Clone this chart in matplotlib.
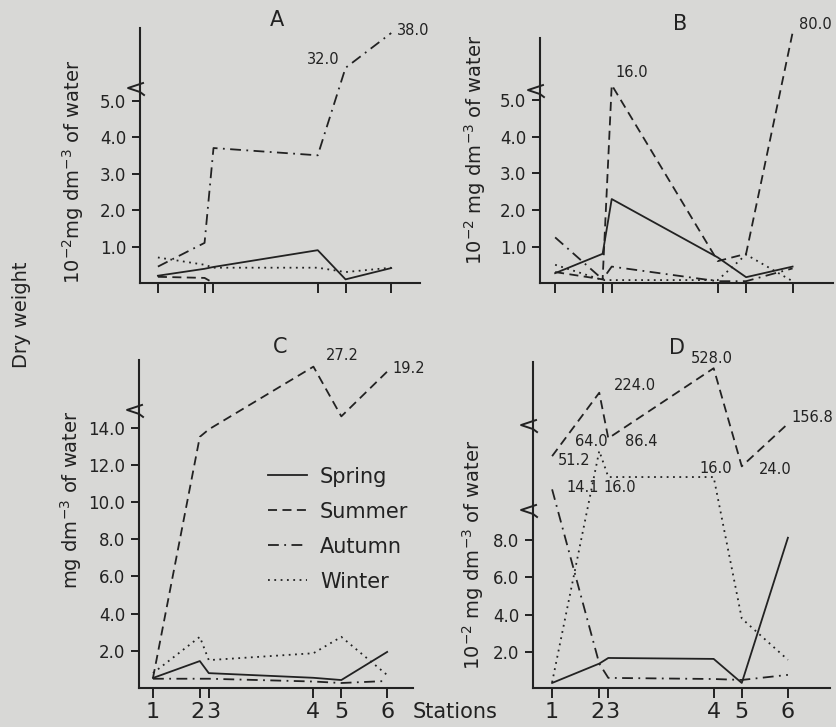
import numpy as np
import matplotlib
matplotlib.use("Agg")
import matplotlib.pyplot as plt

# stations along the river (relative distance) and their labels
stations = ["1", "2", "3", "4", "5", "6"]
station_pos = [0, 4.7, 5.6, 16.1, 18.9, 23.5]
seasons = ["Spring", "Summer", "Autumn", "Winter"]

# A  (10^-2 mg dm-3 of water)
a_spring = [0.2, 0.39, 0.44, 0.9, 0.1, 0.41]
a_summer = [0.17, 0.14, 0.0, 0.0, 0.0, 0.0]
a_autumn = [0.45, 1.1, 3.7, 3.5, 32.0, 38.0]
a_winter = [0.7, 0.5, 0.42, 0.42, 0.3, 0.42]

# B  (10^-2 mg dm-3 of water)
b_spring = [0.27, 0.8, 2.3, 0.7, 0.16, 0.45]
b_summer = [0.3, 0.1, 16.0, 0.6, 0.8, 80.0]
b_autumn = [1.25, 0.1, 0.45, 0.05, 0.05, 0.4]
b_winter = [0.5, 0.08, 0.08, 0.08, 0.78, 0.05]

# C  (mg dm-3 of water)
c_spring = [0.54, 1.45, 0.8, 0.55, 0.43, 1.94]
c_summer = [0.54, 13.5, 13.9, 27.2, 14.6, 19.2]
c_autumn = [0.5, 0.5, 0.5, 0.35, 0.27, 0.38]
c_winter = [0.8, 2.75, 1.5, 1.87, 2.75, 0.7]

# D  (10^-2 mg dm-3 of water)
d_spring = [0.37, 1.4, 1.7, 1.65, 0.37, 8.1]
d_summer = [51.2, 224.0, 86.4, 528.0, 24.0, 156.8]
d_autumn = [14.1, 1.4, 0.64, 0.58, 0.53, 0.8]
d_winter = [0.4, 64.0, 16.0, 16.0, 3.8, 1.6]

ink = "#222222"
styles = {
    "Spring": "-",
    "Summer": (0, (5, 3)),
    "Autumn": (0, (6, 3, 1, 3)),
    "Winter": (0, (1, 2.5)),
}


def broken(yk, fk):
    # piecewise linear axis: true scale below the break, squeezed above it
    yk = np.asarray(yk, float)
    fk = np.asarray(fk, float)
    s_hi = (fk[-1] - fk[-2]) / (yk[-1] - yk[-2])

    def fwd(y):
        y = np.asarray(y, float)
        out = np.interp(y, yk, fk)
        out = np.where(y < yk[0], fk[0] + (y - yk[0]), out)
        return np.where(y > yk[-1], fk[-1] + (y - yk[-1]) * s_hi, out)

    def inv(f):
        f = np.asarray(f, float)
        out = np.interp(f, fk, yk)
        out = np.where(f < fk[0], yk[0] + (f - fk[0]), out)
        return np.where(f > fk[-1], yk[-1] + (f - fk[-1]) / s_hi, out)

    return fwd, inv


panels = [
    dict(name="A", rect=[0.1675, 0.6107, 0.3349, 0.3508],
         data=[a_spring, a_summer, a_autumn, a_winter],
         yk=[0, 5.3, 30, 40], fk=[0, 5.3, 5.58, 7.17], frange=(0, 6.99),
         breaks=[5.29], yticks=[1, 2, 3, 4, 5], xlim=(-1.8, 26.4),
         ylabel="10$^{-2}$mg dm$^{-3}$ of water", ylab=(86, 172),
         title_xy=(277, 20),
         notes=[(2, 4, "32.0", -6, 8, "right"), (2, 5, "38.0", 6, 3, "left")]),
    dict(name="B", rect=[0.6459, 0.6107, 0.3505, 0.337],
         data=[b_spring, b_summer, b_autumn, b_winter],
         yk=[0, 5.25, 10, 100], fk=[0, 5.25, 5.29, 7.3], frange=(0, 6.71),
         breaks=[5.23], yticks=[1, 2, 3, 4, 5], xlim=(-1.5, 27.5),
         ylabel="10$^{-2}$ mg dm$^{-3}$ of water", ylab=(488, 150),
         title_xy=(680, 24),
         notes=[(1, 2, "16.0", 4, 12, "left"), (1, 5, "80.0", 6, 8, "left")]),
    dict(name="C", rect=[0.1663, 0.0536, 0.3278, 0.4512],
         data=[c_spring, c_summer, c_autumn, c_winter],
         yk=[0, 14.85, 19, 28, 45], fk=[0, 14.85, 17.0, 17.3, 17.8], frange=(0, 17.63),
         breaks=[14.84], yticks=[2, 4, 6, 8, 10, 12, 14], xlim=(-1.4, 26.1),
         ylabel="mg dm$^{-3}$ of water", ylab=(84, 500),
         title_xy=(280, 347),
         notes=[(1, 3, "27.2", 12, 11, "left"), (1, 5, "19.2", 5, 3, "left")]),
    dict(name="D", rect=[0.6376, 0.0536, 0.3553, 0.4484],
         data=[d_spring, d_summer, d_autumn, d_winter],
         yk=[0, 9.5, 14, 16, 25, 60, 90, 160, 220, 530, 1000],
         fk=[0, 9.5, 10.64, 11.33, 11.97, 12.6, 13.5, 14.2, 15.8, 17.13, 17.8],
         frange=(0.1, 17.45),
         breaks=[9.47, 13.99], yticks=[2, 4, 6, 8], xlim=(-1.9, 27.7),
         ylabel="10$^{-2}$ mg dm$^{-3}$ of water", ylab=(486, 555),
         title_xy=(677, 348),
         notes=[(2, 0, "14.1", 14, 2, "left"), (1, 0, "51.2", 6, -4, "left"),
                (1, 1, "224.0", 15, 7, "left"), (3, 1, "64.0", -8, 9, "center"),
                (1, 2, "86.4", 17, -3, "left"), (3, 2, "16.0", -5, -10, "left"),
                (1, 3, "528.0", -23, 10, "left"), (3, 3, "16.0", 2, 9, "center"),
                (1, 4, "24.0", 17, -3, "left"), (1, 5, "156.8", 4, 6, "left")]),
]

# station numbers: "2" and "3" sit almost on top of each other
st_shift = [(0, "center"), (5, "right"), (-3, "left"), (0, "center"),
            (0, "center"), (0, "center")]

fig = plt.figure(figsize=(8.36, 7.27), dpi=100, facecolor="#d8d8d6")
W, H = 836, 727

for p in panels:
    ax = fig.add_axes(p["rect"])
    ax.set_facecolor("none")
    fwd, inv = broken(p["yk"], p["fk"])
    ax.set_yscale("function", functions=(fwd, inv))

    lines = []
    for season, vals in zip(seasons, p["data"]):
        ln, = ax.plot(station_pos, vals, color=ink, lw=1.3, ls=styles[season],
                      clip_on=False, label=season)
        lines.append(ln)

    f0, f1 = p["frange"]
    ax.set_ylim(float(inv(f0)), float(inv(f1)))
    ax.set_xlim(*p["xlim"])

    ax.set_yticks(p["yticks"])
    ax.set_yticklabels([f"{v:.1f}" for v in p["yticks"]])
    ax.yaxis.set_minor_locator(matplotlib.ticker.NullLocator())
    ax.set_xticks(station_pos)
    ax.set_xticklabels([])
    if p["name"] in ("C", "D"):
        for pos, lab, (dx, ha) in zip(station_pos, stations, st_shift):
            ax.annotate(lab, xy=(pos, 0), xycoords=ax.get_xaxis_transform(),
                        xytext=(dx, -24), textcoords="offset pixels",
                        ha=ha, va="center", fontsize=16, color=ink)

    for s in ("top", "right"):
        ax.spines[s].set_visible(False)
    for s in ("left", "bottom"):
        ax.spines[s].set_linewidth(1.5)
        ax.spines[s].set_color(ink)
    ax.tick_params(axis="y", direction="out", length=6, width=1.4, labelsize=12,
                   colors=ink, pad=4)
    ax.tick_params(axis="x", direction="out", length=7, width=1.4, colors=ink, pad=6)

    bb = ax.get_position()
    wpx, hpx = bb.width * W, bb.height * H
    lx, ly = p["ylab"]
    ax.set_ylabel(p["ylabel"], fontsize=14, color=ink)
    ax.yaxis.set_label_coords((lx - bb.x0 * W) / wpx,
                              ((H - ly) - bb.y0 * H) / hpx)

    # zigzag break marks on the value axis
    for fb in p["breaks"]:
        yb = (fb - f0) / (f1 - f0)
        zx = [3 / wpx, -12 / wpx, 0, 4 / wpx]
        zy = [yb + 7 / hpx, yb + 2 / hpx, yb - 2 / hpx, yb - 5 / hpx]
        ax.plot(zx, zy, color=ink, lw=1.4, transform=ax.transAxes, clip_on=False)

    for si, st, txt, dx, dy, ha in p["notes"]:
        ax.annotate(txt, xy=(station_pos[st], p["data"][si][st]), xytext=(dx, dy),
                    textcoords="offset pixels", ha=ha, va="center",
                    fontsize=10.5, color=ink, annotation_clip=False)

    tx, ty = p["title_xy"]
    fig.text(tx / W, 1 - ty / H, p["name"], fontsize=15, ha="center", va="center",
             color=ink)

    if p["name"] == "C":
        ax.legend(lines, seasons, loc="upper left", bbox_to_anchor=(0.47, 0.675),
                  frameon=False, fontsize=15, handlelength=1.9, handletextpad=0.6,
                  labelspacing=0.72, borderpad=0, borderaxespad=0,
                  labelcolor=ink)

fig.text(22 / W, 1 - 315 / H, "Dry weight", rotation=90, fontsize=14,
         ha="center", va="center", color=ink)
fig.text(455 / W, 1 - 712 / H, "Stations", fontsize=15, ha="center", va="center",
         color=ink)

fig.savefig("out.png", dpi=100, facecolor=fig.get_facecolor())
